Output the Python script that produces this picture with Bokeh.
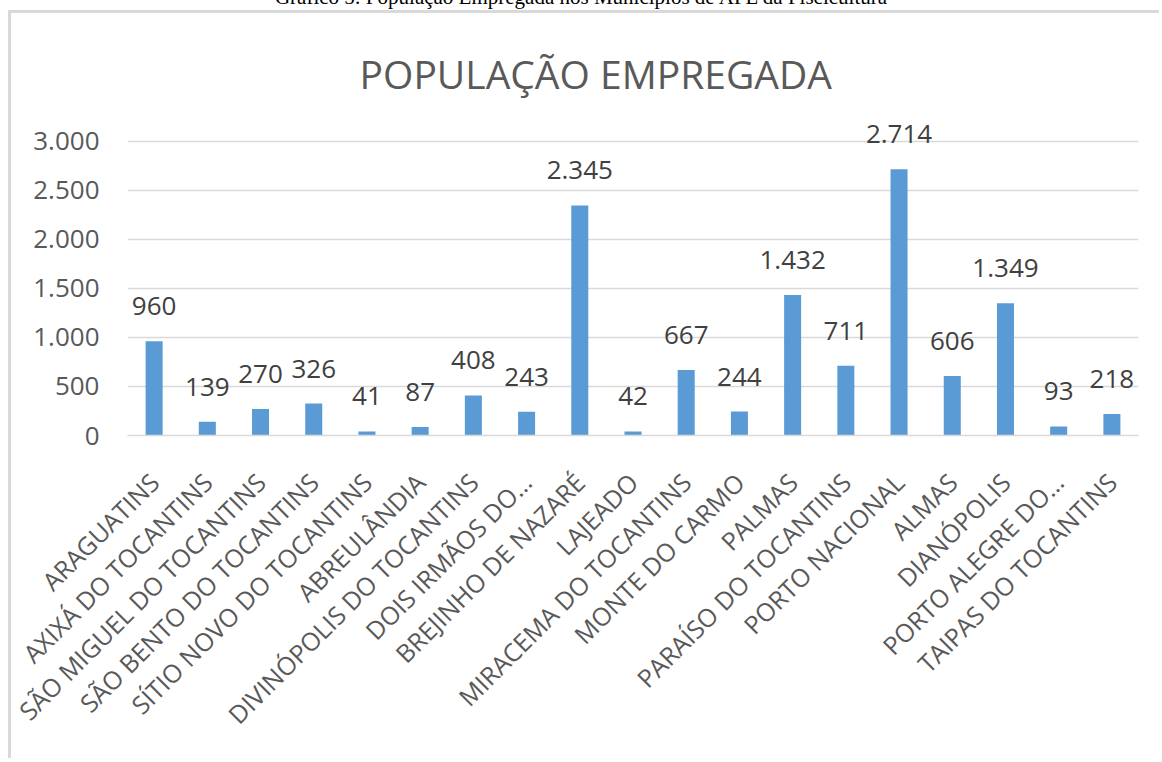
import math
from bokeh.plotting import figure
from bokeh.models import (FactorRange, Range1d, FixedTicker, ColumnDataSource, Label, Div)
from bokeh.layouts import column
from bokeh.core.properties import value
from bokeh.embed import file_html
from bokeh.resources import INLINE

caption_text = "Gráfico 5: População Empregada nos Municípios de APL da Piscicultura"
chart_title = "POPULAÇÃO EMPREGADA"

municipios = [
    "ARAGUATINS", "AXIXÁ DO TOCANTINS", "SÃO MIGUEL DO TOCANTINS",
    "SÃO BENTO DO TOCANTINS", "SÍTIO NOVO DO TOCANTINS", "ABREULÂNDIA",
    "DIVINÓPOLIS DO TOCANTINS", "DOIS IRMÃOS DO…", "BREJINHO DE NAZARÉ",
    "LAJEADO", "MIRACEMA DO TOCANTINS", "MONTE DO CARMO", "PALMAS",
    "PARAÍSO DO TOCANTINS", "PORTO NACIONAL", "ALMAS", "DIANÓPOLIS",
    "PORTO ALEGRE DO…", "TAIPAS DO TOCANTINS",
]
populacao = [960, 139, 270, 326, 41, 87, 408, 243, 2345, 42, 667, 244,
             1432, 711, 2714, 606, 1349, 93, 218]

y_ticks = [0, 500, 1000, 1500, 2000, 2500, 3000]
y_tick_labels = ["0", "500", "1.000", "1.500", "2.000", "2.500", "3.000"]

FONT = "Open Sans"
GRAY = "#595959"

labels = [f"{v:,}".replace(",", ".") for v in populacao]
src = ColumnDataSource(dict(x=municipios, y=populacao, t=labels))

# frame extends above the 3.000 gridline so that the title and top labels are not clipped
p = figure(
    x_range=FactorRange(*municipios), y_range=Range1d(0, 4200),
    width=1151, height=748, output_backend="svg", toolbar_location=None,
    min_border_left=116, min_border_right=24, min_border_top=10, min_border_bottom=326,
    margin=(0, 0, 0, 8),
    styles={"border-left": "3px solid #d9d9d9", "border-top": "3px solid #d9d9d9"},
)
p.outline_line_color = None
p.background_fill_color = "white"
p.border_fill_color = "white"

p.vbar(x="x", top="y", width=0.32, source=src, fill_color="#5B9BD5", line_color=None)
p.text(x="x", y="y", text="t", source=src, text_align="center", text_baseline="alphabetic",
       y_offset=-35, text_font=value(FONT), text_font_size="26px", text_color="#404040")

p.xgrid.grid_line_color = None
p.ygrid.grid_line_color = "#d9d9d9"
p.ygrid.grid_line_width = 1.3
p.yaxis.ticker = FixedTicker(ticks=y_ticks)
p.yaxis.major_label_overrides = {t: l for t, l in zip(y_ticks, y_tick_labels)}
p.yaxis.axis_line_color = None
p.yaxis.major_tick_line_color = None
p.yaxis.minor_tick_line_color = None
p.yaxis.major_tick_out = 0
p.yaxis.major_tick_in = 0
p.yaxis.major_label_standoff = 28
p.yaxis.major_label_text_font = FONT
p.yaxis.major_label_text_font_size = "26px"
p.yaxis.major_label_text_color = GRAY

p.xaxis.axis_line_color = "#d9d9d9"
p.xaxis.axis_line_width = 1.3
p.xaxis.major_tick_line_color = None
p.xaxis.major_tick_out = 0
p.xaxis.major_tick_in = 0
p.xaxis.major_label_orientation = math.pi / 4
p.xaxis.major_label_standoff = 42
p.xaxis.major_label_text_font = FONT
p.xaxis.major_label_text_font_size = "25px"
p.xaxis.major_label_text_color = GRAY

p.add_layout(Label(x=8.8, y=3690, text=chart_title, text_align="center",
                   text_baseline="alphabetic", text_font=FONT, text_font_size="39px",
                   text_color=GRAY))

cap = Div(text=caption_text, width=1146, height=21, margin=(-11, 0, 0, 8),
          styles={"font-family": "Liberation Serif", "font-size": "21px",
                  "line-height": "17px", "text-align": "center", "color": "black"})

layout = column(cap, p, spacing=0)
open("out.html", "w").write(file_html(layout, INLINE))
